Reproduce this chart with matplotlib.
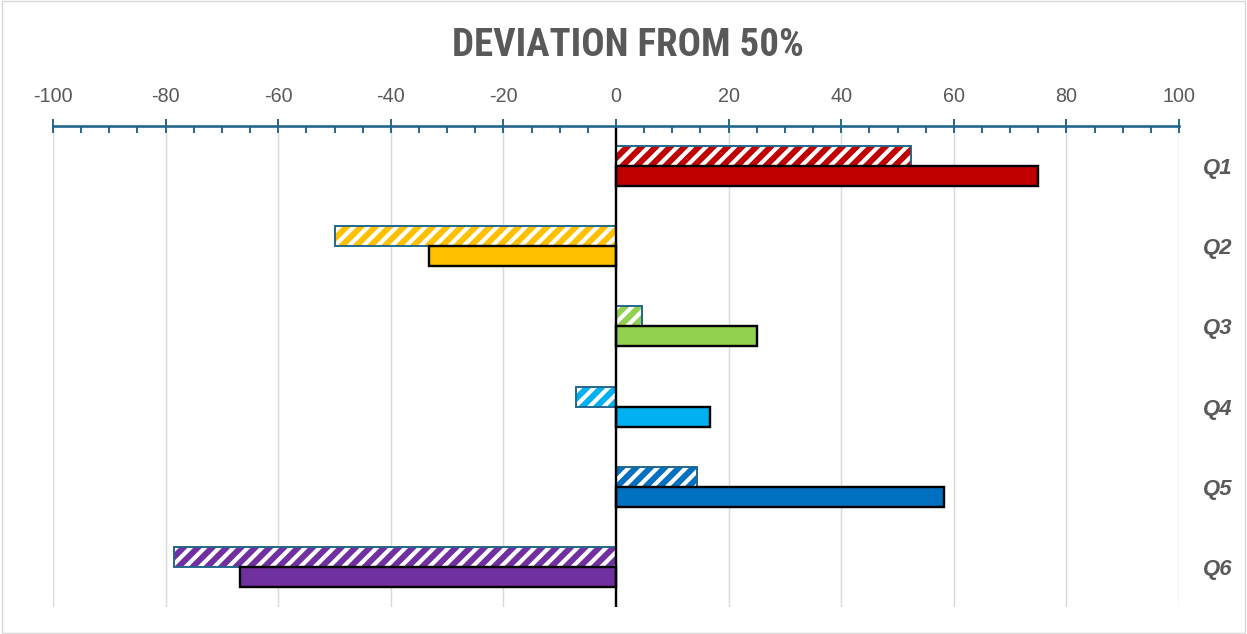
import matplotlib.pyplot as plt
from matplotlib import font_manager
from matplotlib.patches import Rectangle
from matplotlib.ticker import MultipleLocator

# data
questions = ["Q1", "Q2", "Q3", "Q4", "Q5", "Q6"]
hatched_vals = [52.4, -50.0, 4.6, -7.1, 14.4, -78.5]
solid_vals = [75.0, -33.3, 25.0, 16.7, 58.3, -66.7]
colors = ["#C00000", "#FFC000", "#92D050", "#00B0F0", "#0070C0", "#7030A0"]


def has_font(name):
    try:
        font_manager.findfont(font_manager.FontProperties(family=name),
                              fallback_to_default=False)
        return True
    except ValueError:
        return False


plt.rcParams['hatch.linewidth'] = 5

DPI = 86
fig = plt.figure(figsize=(1247 / DPI, 634 / DPI), dpi=DPI)
ax = fig.add_axes([53 / 1247, 1 - 607 / 634, (1179 - 53) / 1247, (607 - 126) / 634])

axis_col = "#21668C"
text_col = "#595959"

y = list(range(len(questions)))
bar_h = 0.25
off = 0.125

# hatched bars: colored stripes on white, blue outline drawn separately
for i, v in enumerate(hatched_vals):
    ax.barh(y[i] - off, v, height=bar_h, color="white", edgecolor=colors[i],
            hatch="//", linewidth=0, zorder=3)
ax.barh([p - off for p in y], hatched_vals, height=bar_h, facecolor="none",
        edgecolor=axis_col, linewidth=1.6, zorder=4)

# solid bars
ax.barh([p + off for p in y], solid_vals, height=bar_h, color=colors,
        edgecolor="black", linewidth=2.0, zorder=4)

ax.set_xlim(-100, 100)
ax.set_ylim(len(questions) - 0.5, -0.5)

# value axis on top with crossing major ticks
ax.xaxis.tick_top()
ax.xaxis.set_major_locator(MultipleLocator(20))
ax.xaxis.set_minor_locator(MultipleLocator(5))
ax.tick_params(axis="x", which="major", direction="inout", length=12, width=1.6,
               color=axis_col, labelcolor=text_col, labelsize=16.5, pad=11)
ax.tick_params(axis="x", which="minor", direction="in", length=6, width=1.6,
               color=axis_col)
ax.set_xticklabels([f"{t:g}" for t in ax.get_xticks()], family="Liberation Sans")

ax.grid(axis="x", which="major", color="#D9D9D9", linewidth=1.2, zorder=0)
ax.axvline(0, color="black", linewidth=2, zorder=5)

for s in ["left", "right", "bottom"]:
    ax.spines[s].set_visible(False)
ax.spines["top"].set_color(axis_col)
ax.spines["top"].set_linewidth(2.2)
ax.spines["top"].set_zorder(6)

# category labels on the right
ax.set_yticks(y)
ax.set_yticklabels(questions)
ax.yaxis.tick_right()
ax.tick_params(axis="y", length=0, pad=20, labelsize=18.5, labelcolor=text_col)
for lab in ax.get_yticklabels():
    lab.set_fontweight("bold")
    lab.set_fontstyle("italic")
    lab.set_family("Liberation Sans")

# condensed face for the title when one is available
title_font, title_size = "Liberation Sans", 27.5
for name in ["Roboto Condensed", "Liberation Sans Narrow", "Open Sans Condensed",
             "Noto Sans Condensed", "DejaVu Sans Condensed"]:
    if has_font(name):
        title_font, title_size = name, 32.5
        break

fig.text(628 / 1247, 1 - 45 / 634, "DEVIATION FROM 50%", ha="center", va="center",
         fontsize=title_size, fontweight="bold", color=text_col, family=title_font)

# chart border
fig.patches.append(Rectangle((0.002, 0.002), 0.996, 0.996, transform=fig.transFigure,
                             fill=False, edgecolor="#D9D9D9", linewidth=1.2))

fig.savefig("out.png", dpi=DPI)
